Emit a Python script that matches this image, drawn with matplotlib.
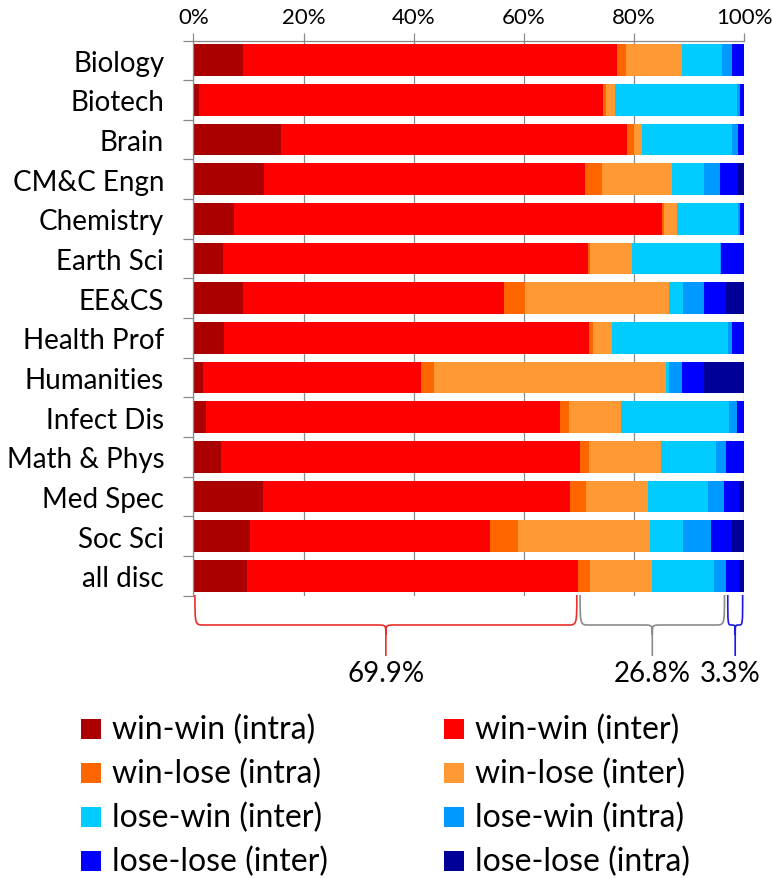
import matplotlib
matplotlib.use("Agg")
import matplotlib.pyplot as plt
import numpy as np
from matplotlib.path import Path
from matplotlib.patches import PathPatch, Rectangle

plt.rcParams['font.family'] = ['Lato', 'DejaVu Sans']

categories = ["Biology", "Biotech", "Brain", "CM&C Engn", "Chemistry", "Earth Sci",
              "EE&CS", "Health Prof", "Humanities", "Infect Dis", "Math & Phys",
              "Med Spec", "Soc Sci", "all disc"]

series_names = ["win-win (intra)", "win-win (inter)", "win-lose (intra)", "win-lose (inter)",
                "lose-win (inter)", "lose-win (intra)", "lose-lose (inter)", "lose-lose (intra)"]
series_colors = ["#AA0000", "#FF0000", "#FF6600", "#FF9933",
                 "#00CCFF", "#0099FF", "#0000FF", "#000099"]

# percentages per category (same order as categories)
ww_intra = [9.0, 1.0, 16.0, 12.8, 7.4, 5.4, 9.0, 5.5, 1.7, 2.3, 5.0, 12.6, 10.2, 9.7]
ww_inter = [67.9, 73.4, 62.7, 58.3, 77.7, 66.3, 47.4, 66.3, 39.7, 64.3, 65.1, 55.8, 43.7, 60.2]
wl_intra = [1.6, 0.5, 1.3, 3.1, 0.3, 0.3, 3.8, 0.7, 2.3, 1.5, 1.8, 2.9, 5.1, 2.1]
wl_inter = [10.2, 1.7, 1.4, 12.6, 2.4, 7.7, 26.1, 3.4, 42.1, 9.5, 13.0, 11.3, 23.9, 11.3]
lw_inter = [7.3, 22.1, 16.3, 5.8, 11.1, 15.8, 2.5, 21.2, 0.6, 19.6, 10.0, 10.9, 6.0, 11.2]
lw_intra = [1.7, 0.5, 1.2, 3.0, 0.3, 0.2, 3.9, 0.7, 2.3, 1.5, 1.7, 2.8, 5.1, 2.2]
ll_inter = [2.3, 0.8, 1.1, 3.3, 0.8, 4.5, 3.9, 2.2, 4.0, 1.3, 3.4, 2.7, 3.8, 2.4]
ll_intra = [0.0, 0.0, 0.0, 1.1, 0.0, 0.0, 3.4, 0.0, 7.3, 0.0, 0.0, 1.0, 2.2, 1.0]

series = [ww_intra, ww_inter, wl_intra, wl_inter, lw_inter, lw_intra, ll_inter, ll_intra]

xticks = [0, 20, 40, 60, 80, 100]
xtick_labels = ["0%", "20%", "40%", "60%", "80%", "100%"]

brace_pcts = [69.9, 26.8, 3.3]
brace_labels = ["69.9%", "26.8%", "3.3%"]
brace_colors = ["#E8302A", "#8C8C8C", "#1A1AE6"]

W, H = 772, 879
fig = plt.figure(figsize=(W / 100, H / 100), dpi=100)

def fx(px):
    return px / W

def fy(py):
    return 1 - py / H

ax_l, ax_r, ax_t, ax_b = 193.3, 744.3, 41.5, 596.5
ax = fig.add_axes([fx(ax_l), fy(ax_b), fx(ax_r) - fx(ax_l), fy(ax_t) - fy(ax_b)])

n = len(categories)
y = np.arange(n)
left = np.zeros(n)
for vals, col, name in zip(series, series_colors, series_names):
    v = np.array(vals, dtype=float)
    ax.barh(y, v, left=left, height=0.8, color=col, edgecolor='none', label=name, zorder=2)
    left += v

ax.set_xlim(0, 100)
ax.set_ylim(n - 0.5, -0.5)
grid_col = "#8A8A8A"
ax.xaxis.tick_top()
ax.set_xticks(xticks)
ax.set_xticklabels(xtick_labels, fontsize=16)
ax.grid(axis='x', color=grid_col, linewidth=0.9, zorder=1)
ax.set_yticks(y)
ax.set_yticklabels(categories, fontsize=20)
ax.set_yticks(np.arange(n + 1) - 0.5, minor=True)
ax.tick_params(axis='y', which='major', length=0, pad=21)
ax.tick_params(axis='y', which='minor', length=7.5, width=0.9, color=grid_col, direction='out')
ax.tick_params(axis='x', which='major', length=6, width=0.9, color=grid_col, pad=4, direction='out')
for s in ['bottom', 'right']:
    ax.spines[s].set_visible(False)
for s in ['top', 'left']:
    ax.spines[s].set_color(grid_col)
    ax.spines[s].set_linewidth(0.9)

# braces
bax = fig.add_axes([fx(ax_l), fy(660), fx(ax_r) - fx(ax_l), fy(595) - fy(660)])
bax.set_xlim(0, 100)
bax.set_ylim(660, 595)
bax.axis('off')
px_per_pct = (ax_r - ax_l) / 100.0
y_top, y_mid, y_tip = 596, 626, 657
start = 0.0
for pct, lab, col in zip(brace_pcts, brace_labels, brace_colors):
    x0 = start + 0.3
    x1 = start + pct - 0.3
    xc = start + pct / 2
    r = min(9 / px_per_pct, (x1 - x0) / 4)
    d = 10
    verts = [(x0, y_top),
             (x0, y_mid), (x0, y_mid), (x0 + r, y_mid),
             (xc - r, y_mid),
             (xc, y_mid), (xc, y_mid), (xc, y_mid + d),
             (xc, y_tip),
             (xc, y_mid + d),
             (xc, y_mid), (xc, y_mid), (xc + r, y_mid),
             (x1 - r, y_mid),
             (x1, y_mid), (x1, y_mid), (x1, y_top)]
    codes = [Path.MOVETO,
             Path.CURVE4, Path.CURVE4, Path.CURVE4,
             Path.LINETO,
             Path.CURVE4, Path.CURVE4, Path.CURVE4,
             Path.LINETO,
             Path.MOVETO,
             Path.CURVE4, Path.CURVE4, Path.CURVE4,
             Path.LINETO,
             Path.CURVE4, Path.CURVE4, Path.CURVE4]
    bax.add_patch(PathPatch(Path(verts, codes), facecolor='none', edgecolor=col,
                            linewidth=1.2, clip_on=False))
    tx = ax_l + xc * px_per_pct
    tx = min(tx, W - 42)
    fig.text(fx(tx), fy(674), lab, fontsize=20, ha='center', va='center')
    start += pct

# legend (two columns, filled column by column)
col_sq_x = [80.7, 444.0]
col_txt_x = [111.7, 475.0]
row_y = [730, 774, 818, 862]
sq = 20
for i, (name, col) in enumerate(zip(series_names, series_colors)):
    c = i % 2
    r_ = i // 2
    fig.patches.append(Rectangle((fx(col_sq_x[c]), fy(row_y[r_] + sq / 2)), sq / W, sq / H,
                                 transform=fig.transFigure, facecolor=col, edgecolor='none'))
    fig.text(fx(col_txt_x[c]), fy(row_y[r_]), name, fontsize=23, ha='left', va='center')

fig.savefig("out.png", dpi=100)
